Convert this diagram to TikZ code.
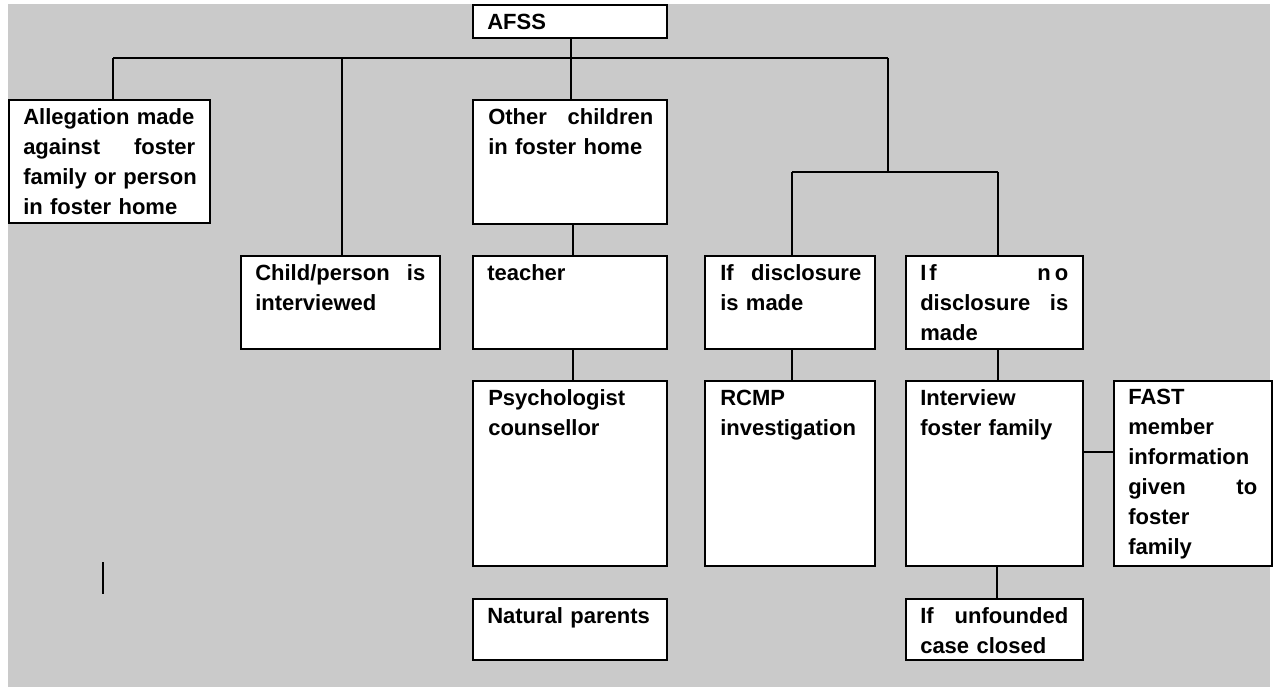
\documentclass[tikz,border=0pt]{standalone}
\usepackage{fontspec}
\setmainfont{Liberation Sans}
\usetikzlibrary{calc}
% one drawing unit = one screen pixel
\newdimen\pxu \pxu=0.75pt
\definecolor{panelgray}{RGB}{202,202,202}
\tikzset{
  stepbox/.style={draw=black, line width=1.7pt, fill=white, inner sep=0pt, anchor=north west},
  txt/.style={anchor=base west, inner sep=0pt, align=left,
              font=\fontsize{16.5}{22.5}\selectfont\bfseries,
              execute at begin node={\hyphenpenalty=10000\exhyphenpenalty=10000}},
  link/.style={draw=black, line width=1.4pt},
}
\begin{document}
\begin{tikzpicture}[x=0.75pt, y=-0.75pt]
\useasboundingbox (0,0) rectangle (1274,687);
\fill[white] (0,0) rectangle (1274,687);
\fill[panelgray] (8,4) rectangle (1270,687);

% ---- connector points ----
\coordinate (busL) at (113,58);
\coordinate (busC) at (342,58);
\coordinate (hub)  at (571,58);
\coordinate (busR) at (888,58);
\coordinate (sub)  at (888,172);
\coordinate (subL) at (792,172);
\coordinate (subR) at (998,172);
\coordinate (tcol) at (573,0);
\coordinate (ucol) at (997,0);
\coordinate (frow) at (0,452);
\coordinate (mark1) at (103,562);
\coordinate (mark2) at (103,594);

% ---- boxes ----
\node[stepbox, minimum width=194\pxu, minimum height=33\pxu]  (afss)      at (472,4)   {};
\node[stepbox, minimum width=201\pxu, minimum height=123\pxu] (alleg)     at (8,99)    {};
\node[stepbox, minimum width=199\pxu, minimum height=93\pxu]  (child)     at (240,255) {};
\node[stepbox, minimum width=194\pxu, minimum height=124\pxu] (other)     at (472,99)  {};
\node[stepbox, minimum width=194\pxu, minimum height=93\pxu]  (teacher)   at (472,255) {};
\node[stepbox, minimum width=194\pxu, minimum height=185\pxu] (psych)     at (472,380) {};
\node[stepbox, minimum width=194\pxu, minimum height=61\pxu]  (natural)   at (472,598) {};
\node[stepbox, minimum width=170\pxu, minimum height=93\pxu]  (disc)      at (704,255) {};
\node[stepbox, minimum width=177\pxu, minimum height=93\pxu]  (nodisc)    at (905,255) {};
\node[stepbox, minimum width=170\pxu, minimum height=185\pxu] (rcmp)      at (704,380) {};
\node[stepbox, minimum width=177\pxu, minimum height=185\pxu] (interview) at (905,380) {};
\node[stepbox, minimum width=158\pxu, minimum height=185\pxu] (fast)      at (1113,380) {};
\node[stepbox, minimum width=177\pxu, minimum height=61\pxu]  (unfounded) at (905,598) {};

% ---- connectors ----
\draw[link] (busL) -- (busR);
\draw[link] (afss.south -| hub) -- (hub) -- (hub |- other.north);
\draw[link] (busL) -- (busL |- alleg.north);
\draw[link] (busC) -- (busC |- child.north);
\draw[link] (busR) -- (sub);
\draw[link] (subL) -- (subR);
\draw[link] (subL) -- (subL |- disc.north);
\draw[link] (subR) -- (subR |- nodisc.north);
\draw[link] (subL |- disc.south) -- (subL |- rcmp.north);
\draw[link] (subR |- nodisc.south) -- (subR |- interview.north);
\draw[link] (other.south -| tcol) -- (teacher.north -| tcol);
\draw[link] (teacher.south -| tcol) -- (psych.north -| tcol);
\draw[link] (interview.south -| ucol) -- (unfounded.north -| ucol);
\draw[link] (interview.east |- frow) -- (fast.west |- frow);
\draw[link, line width=1.2pt] (mark1) -- (mark2);

% ---- box texts ----
\node[txt, text width=165\pxu] (afss-t) at ($(afss.north west)+(15,25)$) {AFSS};
\node[txt, text width=172\pxu] (alleg-t) at ($(alleg.north west)+(15,25)$)
  {\mbox{Allegation made}\\against\hfill foster\\\mbox{family or person}\\in foster home};
\node[txt, text width=170\pxu] (child-t) at ($(child.north west)+(15,25)$)
  {Child/person\hfill is\\interviewed};
\node[txt, text width=165\pxu] (other-t) at ($(other.north west)+(16,25)$)
  {Other\hfill children\\in foster home};
\node[txt, text width=165\pxu] (teacher-t) at ($(teacher.north west)+(15,25)$) {teacher};
\node[txt, text width=165\pxu] (psych-t) at ($(psych.north west)+(16,25)$)
  {Psychologist\\counsellor};
\node[txt, text width=165\pxu] (natural-t) at ($(natural.north west)+(15,25)$)
  {Natural parents};
\node[txt, text width=141\pxu] (disc-t) at ($(disc.north west)+(16,25)$)
  {If\hfill disclosure\\is made};
\node[txt, text width=148\pxu] (nodisc-t) at ($(nodisc.north west)+(15,25)$)
  {I\kern3\pxu f\hfill n\kern4\pxu o\\disclosure\hfill is\\made};
\node[txt, text width=141\pxu] (rcmp-t) at ($(rcmp.north west)+(16,25)$)
  {RCMP\\investigation};
\node[txt, text width=148\pxu] (interview-t) at ($(interview.north west)+(15,25)$)
  {Interview\\foster family};
\node[txt, text width=129\pxu] (fast-t) at ($(fast.north west)+(15,24)$)
  {FAST\\member\\information\\given\hfill to\\foster\\family};
\node[txt, text width=148\pxu] (unfounded-t) at ($(unfounded.north west)+(15,25)$)
  {If\hfill unfounded\\case closed};
\end{tikzpicture}
\end{document}
